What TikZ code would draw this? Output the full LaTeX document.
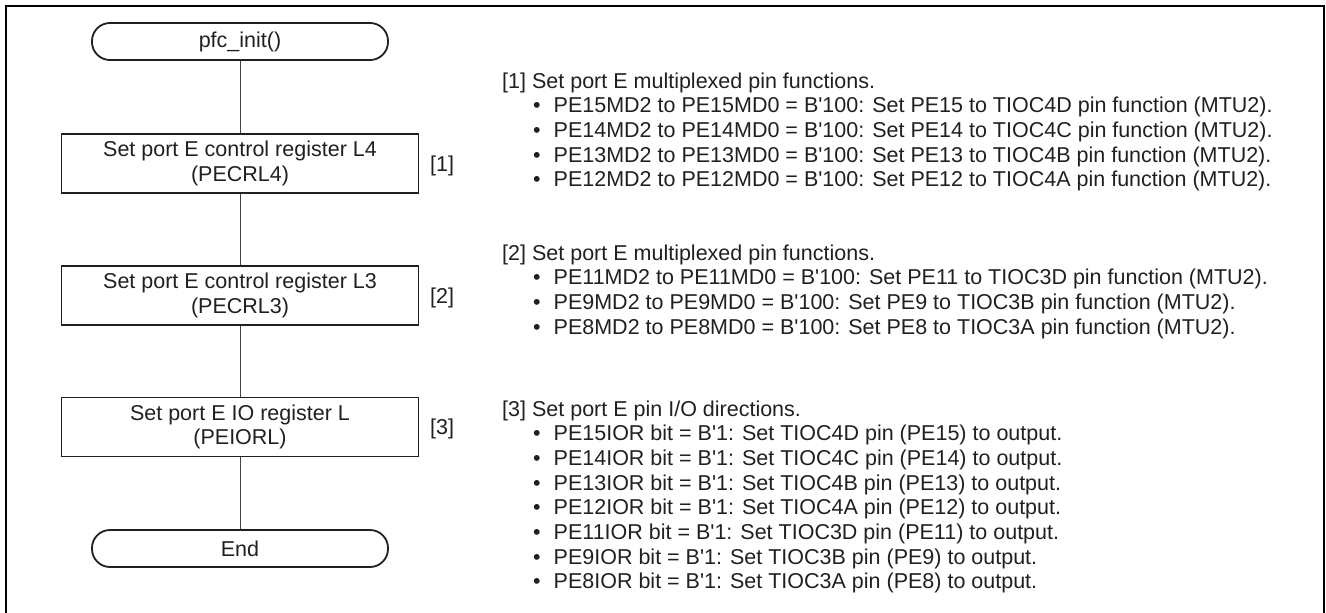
\documentclass[tikz,border=0pt]{standalone}
\usepackage{fontspec}
\setmainfont{Liberation Sans}[Ligatures=TeXOff]
\definecolor{ink}{RGB}{35,31,32}
\newcommand{\bul}[1]{\makebox[20.5pt][l]{•}#1}
\begin{document}
\begin{tikzpicture}[x=1pt,y=-1pt,
  txt/.style={font=\fontsize{21.5}{24.7}\selectfont, text=ink},
  term/.style={draw=ink, line width=1.8pt, rounded corners=18pt, minimum width=296pt, minimum height=37pt, inner sep=0pt, txt},
  proc/.style={draw=ink, line width=1.8pt, minimum width=357pt, minimum height=59pt, inner sep=0pt, align=center, txt},
  conn/.style={draw=ink!85, line width=1pt},
  tag/.style={txt, anchor=base west, inner sep=0pt, text height=16pt, text depth=4.5pt},
]
\useasboundingbox (0,0) rectangle (1326,613);
\draw[line width=2pt, draw=black] (6,614) -- (6,6) -- (1324,6) -- (1324,614);

\node[term] (start) at (240,41.5) {pfc\_init()};
\node[proc] (b1) at (240,163.5) {Set port E control register L4\\(PECRL4)};
\node[proc] (b2) at (240,295.5) {Set port E control register L3\\(PECRL3)};
\node[proc] (b3) at (240,427) {Set port E IO register L\\(PEIORL)};
\node[term] (end) at (240,548.5) {End};

\draw[conn] (start) -- (b1);
\draw[conn] (b1) -- (b2);
\draw[conn] (b2) -- (b3);
\draw[conn] (b3) -- (end);

\node[tag] (n1) at (430,171.2) {[1]};
\node[tag] (n2) at (430,303.2) {[2]};
\node[tag] (n3) at (430,434.7) {[3]};

\node[tag] (h1) at (502,88) {[1] Set port E multiplexed pin functions.};
\node[tag] (h1a) at (533,112.7) {\bul{PE15MD2 to PE15MD0 = B'100: Set PE15 to TIOC4D pin function (MTU2).}};
\node[tag] (h1b) at (533,137.4) {\bul{PE14MD2 to PE14MD0 = B'100: Set PE14 to TIOC4C pin function (MTU2).}};
\node[tag] (h1c) at (533,162.1) {\bul{PE13MD2 to PE13MD0 = B'100: Set PE13 to TIOC4B pin function (MTU2).}};
\node[tag] (h1d) at (533,186.8) {\bul{PE12MD2 to PE12MD0 = B'100: Set PE12 to TIOC4A pin function (MTU2).}};

\node[tag] (h2) at (502,260) {[2] Set port E multiplexed pin functions.};
\node[tag] (h2a) at (533,284.7) {\bul{PE11MD2 to PE11MD0 = B'100: Set PE11 to TIOC3D pin function (MTU2).}};
\node[tag] (h2b) at (533,309.4) {\bul{PE9MD2 to PE9MD0 = B'100: Set PE9 to TIOC3B pin function (MTU2).}};
\node[tag] (h2c) at (533,334.1) {\bul{PE8MD2 to PE8MD0 = B'100: Set PE8 to TIOC3A pin function (MTU2).}};

\node[tag] (h3) at (502,416) {[3] Set port E pin I/O directions.};
\node[tag] (h3a) at (533,440.7) {\bul{PE15IOR bit = B'1: Set TIOC4D pin (PE15) to output.}};
\node[tag] (h3b) at (533,465.4) {\bul{PE14IOR bit = B'1: Set TIOC4C pin (PE14) to output.}};
\node[tag] (h3c) at (533,490.1) {\bul{PE13IOR bit = B'1: Set TIOC4B pin (PE13) to output.}};
\node[tag] (h3d) at (533,514.8) {\bul{PE12IOR bit = B'1: Set TIOC4A pin (PE12) to output.}};
\node[tag] (h3e) at (533,539.5) {\bul{PE11IOR bit = B'1: Set TIOC3D pin (PE11) to output.}};
\node[tag] (h3f) at (533,564.2) {\bul{PE9IOR bit = B'1: Set TIOC3B pin (PE9) to output.}};
\node[tag] (h3g) at (533,588.9) {\bul{PE8IOR bit = B'1: Set TIOC3A pin (PE8) to output.}};
\end{tikzpicture}
\end{document}
